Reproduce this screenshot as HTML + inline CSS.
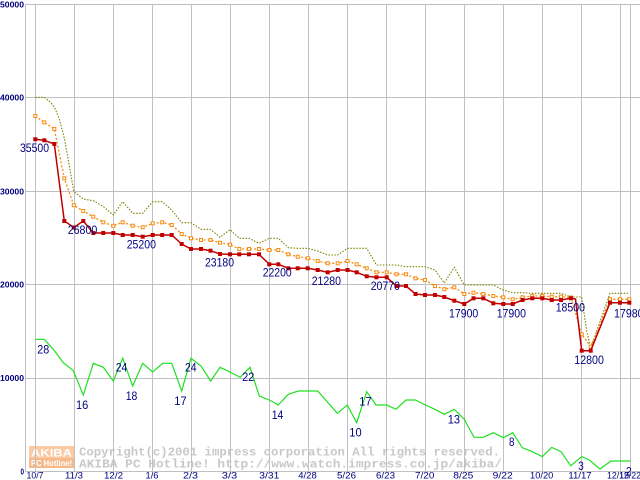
<!DOCTYPE html>
<html><head><meta charset="utf-8"><style>
html,body{margin:0;padding:0;background:#fff;}
svg{display:block;}
</style></head><body>
<svg width="640" height="480" viewBox="0 0 640 480" xmlns="http://www.w3.org/2000/svg">
<rect width="640" height="480" fill="#fff"/>
<!-- watermark -->
<rect x="29" y="446" width="45" height="12" fill="#fbcaa2"/>
<rect x="29" y="458" width="45" height="10" fill="#f6b98c"/>
<text x="31" y="456.5" font-family="Liberation Sans, sans-serif" font-weight="bold" font-size="11" fill="#fff" textLength="41" lengthAdjust="spacingAndGlyphs">AKIBA</text>
<text x="31" y="466" font-family="Liberation Sans, sans-serif" font-weight="bold" font-size="8" fill="#fff" textLength="41" lengthAdjust="spacingAndGlyphs">PC Hotline!</text>
<text x="79" y="455.5" font-family="Liberation Mono, monospace" font-weight="bold" font-size="12" fill="#c8c8c8" textLength="421" lengthAdjust="spacingAndGlyphs">Copyright(c)2001 impress corporation All rights reserved.</text>
<text x="79" y="467.5" font-family="Liberation Mono, monospace" font-weight="bold" font-size="12" fill="#c8c8c8" textLength="423" lengthAdjust="spacingAndGlyphs">AKIBA PC Hotline! http://www.watch.impress.co.jp/akiba/</text>
<!-- grid -->
<g stroke="#c0c0c0" stroke-width="1" shape-rendering="crispEdges">
<line x1="25" y1="4.5" x2="640" y2="4.5"/>
<line x1="25" y1="97.5" x2="640" y2="97.5"/>
<line x1="25" y1="191.5" x2="640" y2="191.5"/>
<line x1="25" y1="284.5" x2="640" y2="284.5"/>
<line x1="25" y1="378.5" x2="640" y2="378.5"/>
<line x1="25" y1="471.5" x2="640" y2="471.5"/>
<line x1="25.5" y1="4" x2="25.5" y2="472"/>
<line x1="35.5" y1="4" x2="35.5" y2="472"/>
<line x1="74.5" y1="4" x2="74.5" y2="472"/>
<line x1="113.5" y1="4" x2="113.5" y2="472"/>
<line x1="152.5" y1="4" x2="152.5" y2="472"/>
<line x1="191.5" y1="4" x2="191.5" y2="472"/>
<line x1="230.5" y1="4" x2="230.5" y2="472"/>
<line x1="269.5" y1="4" x2="269.5" y2="472"/>
<line x1="308.5" y1="4" x2="308.5" y2="472"/>
<line x1="347.5" y1="4" x2="347.5" y2="472"/>
<line x1="386.5" y1="4" x2="386.5" y2="472"/>
<line x1="425.5" y1="4" x2="425.5" y2="472"/>
<line x1="464.5" y1="4" x2="464.5" y2="472"/>
<line x1="503.5" y1="4" x2="503.5" y2="472"/>
<line x1="542.5" y1="4" x2="542.5" y2="472"/>
<line x1="581.5" y1="4" x2="581.5" y2="472"/>
<line x1="620.5" y1="4" x2="620.5" y2="472"/>
<line x1="630.5" y1="4" x2="630.5" y2="472"/>
</g>
<!-- y labels -->
<g font-family="Liberation Sans, sans-serif" font-weight="bold" font-size="8" fill="#000080">
<text x="0" y="7.3" textLength="24" lengthAdjust="spacingAndGlyphs">50000</text>
<text x="0" y="100.5" textLength="24" lengthAdjust="spacingAndGlyphs">40000</text>
<text x="0" y="194.5" textLength="24" lengthAdjust="spacingAndGlyphs">30000</text>
<text x="0" y="287.3" textLength="24" lengthAdjust="spacingAndGlyphs">20000</text>
<text x="0" y="381.2" textLength="24" lengthAdjust="spacingAndGlyphs">10000</text>
<text x="20.5" y="474.5" textLength="3.5" lengthAdjust="spacingAndGlyphs">0</text>
</g>
<!-- x labels -->
<g font-family="Liberation Sans, sans-serif" font-size="9.5" fill="#000080" text-anchor="middle">
<text x="35" y="478.5" textLength="17" lengthAdjust="spacingAndGlyphs">10/7</text>
<text x="74" y="478.5" textLength="18" lengthAdjust="spacingAndGlyphs">11/3</text>
<text x="113.5" y="478.5" textLength="19" lengthAdjust="spacingAndGlyphs">12/2</text>
<text x="152" y="478.5" textLength="13" lengthAdjust="spacingAndGlyphs">1/6</text>
<text x="190.5" y="478.5" textLength="15" lengthAdjust="spacingAndGlyphs">2/3</text>
<text x="229.5" y="478.5" textLength="15.5" lengthAdjust="spacingAndGlyphs">3/3</text>
<text x="269.3" y="478.5" textLength="20" lengthAdjust="spacingAndGlyphs">3/31</text>
<text x="307.5" y="478.5" textLength="18.5" lengthAdjust="spacingAndGlyphs">4/28</text>
<text x="346.5" y="478.5" textLength="19" lengthAdjust="spacingAndGlyphs">5/26</text>
<text x="385.5" y="478.5" textLength="19" lengthAdjust="spacingAndGlyphs">6/23</text>
<text x="424.7" y="478.5" textLength="19.3" lengthAdjust="spacingAndGlyphs">7/20</text>
<text x="463.3" y="478.5" textLength="20" lengthAdjust="spacingAndGlyphs">8/25</text>
<text x="502.7" y="478.5" textLength="20" lengthAdjust="spacingAndGlyphs">9/22</text>
<text x="541.7" y="478.5" textLength="23.3" lengthAdjust="spacingAndGlyphs">10/20</text>
<text x="580" y="478.5" textLength="23.3" lengthAdjust="spacingAndGlyphs">11/17</text>
<text x="618" y="478.5" textLength="22" lengthAdjust="spacingAndGlyphs">12/15</text>
<text x="630" y="478.5" textLength="22" lengthAdjust="spacingAndGlyphs">12/22</text>
</g>
<!-- olive (max) -->
<polyline fill="none" stroke="#808000" stroke-width="1.1" stroke-dasharray="1.5 1.5" points="35.3,97.3 44.3,97.3 50,101.7 54.3,107 59,118 64.3,138 68.3,160 73.8,191.5 83.3,199 93.3,200.7 103.3,206.5 113.3,215 122.7,201.7 132.7,213.3 142.7,213.3 152.7,201.7 162.2,201.7 171.7,210 181.7,222.7 191,222.7 201,229.3 210.5,229.3 220,237.3 230,229.6 239.3,238.3 249,238.3 259,243.3 269.3,238.3 278.3,238.3 288.3,247.7 297.7,248.3 307.7,248.3 317.7,251 327.7,255 337.7,255 347.5,248.3 356.7,248.3 366.7,248.3 376.5,265 386.7,265 396.5,265 406,266.7 415.5,266.7 425,266.7 435,270 444.3,283 454.3,267.3 464.3,285 473.5,285 483.3,285 493.3,285 503.3,290 512.7,292.7 522.5,292.7 532.3,293.3 542.3,293.3 551.7,293.3 561,293.3 571,297 581.7,297 586.5,330 590.7,348 610,293.3 620,293.3 629.3,293.3"/>
<!-- orange (avg) -->
<polyline fill="none" stroke="#f88a10" stroke-width="1.3" stroke-dasharray="2 2" points="35.3,116 44.3,122.3 54.3,129 64.3,178.3 73.8,205.2 83.3,211 93.3,216.7 103.3,222.3 113.3,225.8 122.7,222.3 132.7,225.7 142.7,227.3 152.7,223.3 162.2,222.3 171.7,225 181.7,234 191,238.3 201,240 210.5,240 220,242.7 230,244.7 239.3,249 249,249 259,249 269.3,250 278.3,250 288.3,254.3 297.7,256.7 307.7,258.3 317.7,261 327.7,263.3 337.7,263.3 347.5,261 356.7,264.3 366.7,268.3 376.5,272.3 386.7,272.3 396.5,274.3 406,274.3 415.5,278.3 425,280 435,286 444.3,289.2 454.3,287.3 464.3,294 473.5,292.7 483.3,294 493.3,296 503.3,297.3 512.7,299.3 522.5,297.3 532.3,296 542.3,296 551.7,296.7 561,296.7 571,297.5 581.7,334.3 590.7,346.7 610,299.3 620,299.3 629.3,299.3"/>
<g fill="#fff" stroke="#f88a10" stroke-width="1">
<rect x="33.8" y="114.5" width="3" height="3"/><rect x="42.8" y="120.8" width="3" height="3"/><rect x="52.8" y="127.5" width="3" height="3"/><rect x="62.8" y="176.8" width="3" height="3"/><rect x="72.3" y="203.7" width="3" height="3"/><rect x="81.8" y="209.5" width="3" height="3"/><rect x="91.8" y="215.2" width="3" height="3"/><rect x="101.8" y="220.8" width="3" height="3"/><rect x="111.8" y="224.3" width="3" height="3"/><rect x="121.2" y="220.8" width="3" height="3"/><rect x="131.2" y="224.2" width="3" height="3"/><rect x="141.2" y="225.8" width="3" height="3"/><rect x="151.2" y="221.8" width="3" height="3"/><rect x="160.7" y="220.8" width="3" height="3"/><rect x="170.2" y="223.5" width="3" height="3"/><rect x="180.2" y="232.5" width="3" height="3"/><rect x="189.5" y="236.8" width="3" height="3"/><rect x="199.5" y="238.5" width="3" height="3"/><rect x="209" y="238.5" width="3" height="3"/><rect x="218.5" y="241.2" width="3" height="3"/><rect x="228.5" y="243.2" width="3" height="3"/><rect x="237.8" y="247.5" width="3" height="3"/><rect x="247.5" y="247.5" width="3" height="3"/><rect x="257.5" y="247.5" width="3" height="3"/><rect x="267.8" y="248.5" width="3" height="3"/><rect x="276.8" y="248.5" width="3" height="3"/><rect x="286.8" y="252.8" width="3" height="3"/><rect x="296.2" y="255.2" width="3" height="3"/><rect x="306.2" y="256.8" width="3" height="3"/><rect x="316.2" y="259.5" width="3" height="3"/><rect x="326.2" y="261.8" width="3" height="3"/><rect x="336.2" y="261.8" width="3" height="3"/><rect x="346" y="259.5" width="3" height="3"/><rect x="355.2" y="262.8" width="3" height="3"/><rect x="365.2" y="266.8" width="3" height="3"/><rect x="375" y="270.8" width="3" height="3"/><rect x="385.2" y="270.8" width="3" height="3"/><rect x="395" y="272.8" width="3" height="3"/><rect x="404.5" y="272.8" width="3" height="3"/><rect x="414" y="276.8" width="3" height="3"/><rect x="423.5" y="278.5" width="3" height="3"/><rect x="433.5" y="284.5" width="3" height="3"/><rect x="442.8" y="287.7" width="3" height="3"/><rect x="452.8" y="285.8" width="3" height="3"/><rect x="462.8" y="292.5" width="3" height="3"/><rect x="472" y="291.2" width="3" height="3"/><rect x="481.8" y="292.5" width="3" height="3"/><rect x="491.8" y="294.5" width="3" height="3"/><rect x="501.8" y="295.8" width="3" height="3"/><rect x="511.2" y="297.8" width="3" height="3"/><rect x="521" y="295.8" width="3" height="3"/><rect x="530.8" y="294.5" width="3" height="3"/><rect x="540.8" y="294.5" width="3" height="3"/><rect x="550.2" y="295.2" width="3" height="3"/><rect x="559.5" y="295.2" width="3" height="3"/><rect x="569.5" y="296" width="3" height="3"/><rect x="580.2" y="332.8" width="3" height="3"/><rect x="589.2" y="345.2" width="3" height="3"/><rect x="608.5" y="297.8" width="3" height="3"/><rect x="618.5" y="297.8" width="3" height="3"/><rect x="627.8" y="297.8" width="3" height="3"/>
</g>
<!-- red (min) -->
<polyline fill="none" stroke="#c00000" stroke-width="1.5" points="35.3,139.3 44.3,140.3 54.3,144 64.3,221 73.8,227.5 83.3,221 93.3,233 103.3,233 113.3,233 122.7,235 132.7,235 142.7,236.7 152.7,235 162.2,235 171.7,235 181.7,244 191,249 201,249 210.5,250.7 220,254 230,254.3 239.3,254.3 249,254.3 259,254.3 269.3,264.3 278.3,264.3 288.3,268.3 297.7,268.3 307.7,268.3 317.7,270 327.7,272.3 337.7,270 347.5,270 356.7,272.3 366.7,276.3 376.5,277.3 386.7,277.3 396.5,286 406,286 415.5,294 425,295 435,295 444.3,297 454.3,300.7 464.3,304 473.5,298.3 483.3,298.3 493.3,303.3 503.3,304 512.7,304 522.5,300 532.3,298.3 542.3,298.3 551.7,300 561,300 571,298.3 575.5,299 581.7,350.7 590.7,350.7 610,302.7 620,302.7 629.3,302.7"/>
<g fill="#c00000">
<rect x="33.3" y="137.3" width="4" height="4"/><rect x="42.3" y="138.3" width="4" height="4"/><rect x="52.3" y="142" width="4" height="4"/><rect x="62.3" y="219" width="4" height="4"/><rect x="71.8" y="225.5" width="4" height="4"/><rect x="81.3" y="219" width="4" height="4"/><rect x="91.3" y="231" width="4" height="4"/><rect x="101.3" y="231" width="4" height="4"/><rect x="111.3" y="231" width="4" height="4"/><rect x="120.7" y="233" width="4" height="4"/><rect x="130.7" y="233" width="4" height="4"/><rect x="140.7" y="234.7" width="4" height="4"/><rect x="150.7" y="233" width="4" height="4"/><rect x="160.2" y="233" width="4" height="4"/><rect x="169.7" y="233" width="4" height="4"/><rect x="179.7" y="242" width="4" height="4"/><rect x="189" y="247" width="4" height="4"/><rect x="199" y="247" width="4" height="4"/><rect x="208.5" y="248.7" width="4" height="4"/><rect x="218" y="252" width="4" height="4"/><rect x="228" y="252.3" width="4" height="4"/><rect x="237.3" y="252.3" width="4" height="4"/><rect x="247" y="252.3" width="4" height="4"/><rect x="257" y="252.3" width="4" height="4"/><rect x="267.3" y="262.3" width="4" height="4"/><rect x="276.3" y="262.3" width="4" height="4"/><rect x="286.3" y="266.3" width="4" height="4"/><rect x="295.7" y="266.3" width="4" height="4"/><rect x="305.7" y="266.3" width="4" height="4"/><rect x="315.7" y="268" width="4" height="4"/><rect x="325.7" y="270.3" width="4" height="4"/><rect x="335.7" y="268" width="4" height="4"/><rect x="345.5" y="268" width="4" height="4"/><rect x="354.7" y="270.3" width="4" height="4"/><rect x="364.7" y="274.3" width="4" height="4"/><rect x="374.5" y="275.3" width="4" height="4"/><rect x="384.7" y="275.3" width="4" height="4"/><rect x="394.5" y="284" width="4" height="4"/><rect x="404" y="284" width="4" height="4"/><rect x="413.5" y="292" width="4" height="4"/><rect x="423" y="293" width="4" height="4"/><rect x="433" y="293" width="4" height="4"/><rect x="442.3" y="295" width="4" height="4"/><rect x="452.3" y="298.7" width="4" height="4"/><rect x="462.3" y="302" width="4" height="4"/><rect x="471.5" y="296.3" width="4" height="4"/><rect x="481.3" y="296.3" width="4" height="4"/><rect x="491.3" y="301.3" width="4" height="4"/><rect x="501.3" y="302" width="4" height="4"/><rect x="510.7" y="302" width="4" height="4"/><rect x="520.5" y="298" width="4" height="4"/><rect x="530.3" y="296.3" width="4" height="4"/><rect x="540.3" y="296.3" width="4" height="4"/><rect x="549.7" y="298" width="4" height="4"/><rect x="559" y="298" width="4" height="4"/><rect x="569" y="296.3" width="4" height="4"/><rect x="579.7" y="348.7" width="4" height="4"/><rect x="588.7" y="348.7" width="4" height="4"/><rect x="608" y="300.7" width="4" height="4"/><rect x="618" y="300.7" width="4" height="4"/><rect x="627.3" y="300.7" width="4" height="4"/>
</g>
<!-- green (count) -->
<polyline fill="none" stroke="#1fe01f" stroke-width="1.2" points="35.3,339.3 44.3,339.3 53.3,349.3 63.3,362.7 73.3,370.7 83.3,395 93.3,363.3 103.3,367.3 113.3,381 122.7,358.3 132.7,386 142.7,363.3 152.7,372 162.7,363.3 171.7,363.3 181.7,391 191,358.3 201,366 210.7,381 220,367.3 230,372 240,377.3 250,367.3 259.3,396 269.3,400 278.3,405 288.3,394.3 298.3,391 308.3,391 317.7,391 337.3,413.3 347.3,405 356.7,422.7 366.7,391.7 376,405 386.7,405 396,409.3 406,400 415.3,400 425.3,405 435,409.3 444.3,414.3 454.3,409.3 464.3,419.3 474,437.3 483.3,437.3 493.3,432.7 503.3,437.7 512.7,432.7 522.3,447.7 532.3,451.7 542.3,456.7 551.7,447.3 561,451.7 570.7,465.7 581.7,456.7 589.3,460 600,469 611,461 630,461"/>
<!-- value labels -->
<g font-family="Liberation Sans, sans-serif" font-size="11.5" fill="#000080">
<text x="20" y="152" textLength="29" lengthAdjust="spacingAndGlyphs">35500</text>
<text x="67.7" y="234" textLength="29.6" lengthAdjust="spacingAndGlyphs">26800</text>
<text x="126.7" y="248.3" textLength="29.3" lengthAdjust="spacingAndGlyphs">25200</text>
<text x="205" y="266.7" textLength="29" lengthAdjust="spacingAndGlyphs">23180</text>
<text x="262.7" y="276.7" textLength="29" lengthAdjust="spacingAndGlyphs">22200</text>
<text x="311.7" y="285" textLength="29.3" lengthAdjust="spacingAndGlyphs">21280</text>
<text x="370.7" y="290" textLength="29.3" lengthAdjust="spacingAndGlyphs">20770</text>
<text x="449" y="317.3" textLength="29.3" lengthAdjust="spacingAndGlyphs">17900</text>
<text x="496.7" y="317.3" textLength="29.3" lengthAdjust="spacingAndGlyphs">17900</text>
<text x="555.7" y="311.7" textLength="29.3" lengthAdjust="spacingAndGlyphs">18500</text>
<text x="574.3" y="364" textLength="29.6" lengthAdjust="spacingAndGlyphs">12800</text>
<text x="614" y="317.3" textLength="29.6" lengthAdjust="spacingAndGlyphs">17980</text>
<text x="37.3" y="353.3" textLength="12" lengthAdjust="spacingAndGlyphs">28</text>
<text x="76" y="409" textLength="12.3" lengthAdjust="spacingAndGlyphs">16</text>
<text x="115.7" y="371.7" textLength="11.6" lengthAdjust="spacingAndGlyphs">24</text>
<text x="125.7" y="400" textLength="11.6" lengthAdjust="spacingAndGlyphs">18</text>
<text x="174.3" y="405" textLength="12.3" lengthAdjust="spacingAndGlyphs">17</text>
<text x="185" y="371.7" textLength="11.6" lengthAdjust="spacingAndGlyphs">24</text>
<text x="242.3" y="381" textLength="12" lengthAdjust="spacingAndGlyphs">22</text>
<text x="271.7" y="419" textLength="11.6" lengthAdjust="spacingAndGlyphs">14</text>
<text x="349.3" y="436.7" textLength="12.3" lengthAdjust="spacingAndGlyphs">10</text>
<text x="359.3" y="405.7" textLength="12.3" lengthAdjust="spacingAndGlyphs">17</text>
<text x="447.7" y="423.3" textLength="12.3" lengthAdjust="spacingAndGlyphs">13</text>
<text x="509" y="446" textLength="5.5" lengthAdjust="spacingAndGlyphs">8</text>
<text x="578.3" y="470" textLength="5.5" lengthAdjust="spacingAndGlyphs">3</text>
<text x="626" y="475.5" textLength="5.7" lengthAdjust="spacingAndGlyphs">2</text>
</g>
</svg>
</body></html>
